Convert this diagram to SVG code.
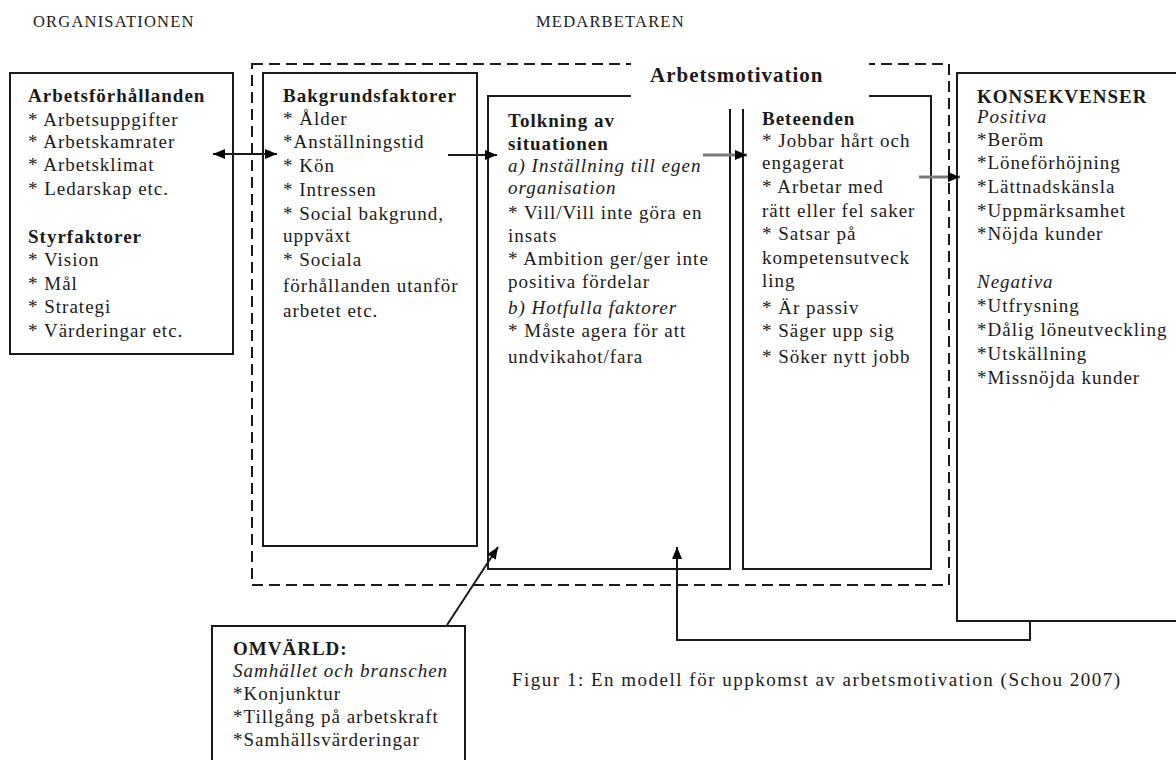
<svg xmlns="http://www.w3.org/2000/svg" width="1176" height="760" viewBox="0 0 1176 760">
<defs>
<style>
.box{fill:none;stroke:#1a1a1a;stroke-width:2}
.dash{fill:none;stroke:#1a1a1a;stroke-width:2;stroke-dasharray:11 6}
.t{font-family:"Liberation Serif","Times New Roman",serif;font-size:19px;letter-spacing:1px;fill:#1a1a1a}
.b{font-weight:bold}
.i{font-style:italic}
.hdr{font-family:"Liberation Serif","Times New Roman",serif;font-size:16.5px;letter-spacing:1.2px;fill:#1a1a1a}
.cap{font-family:"Liberation Serif","Times New Roman",serif;font-size:19px;letter-spacing:1.5px;fill:#1a1a1a}
.big{font-family:"Liberation Serif","Times New Roman",serif;font-size:21px;letter-spacing:1px;font-weight:bold;fill:#1a1a1a}
.c{fill:none;stroke:#1a1a1a;stroke-width:2}
.g{fill:none;stroke:#7a7a7a;stroke-width:3}
</style>
<marker id="ah" viewBox="0 0 12 10" refX="12" refY="5" markerWidth="12" markerHeight="10" markerUnits="userSpaceOnUse" orient="auto-start-reverse">
<path d="M0,0 L12,5 L0,10 z" fill="#000"/>
</marker>
</defs>
<rect width="1176" height="760" fill="#fff"/>

<text class="hdr" x="33" y="27">ORGANISATIONEN</text>
<text class="hdr" x="536" y="27">MEDARBETAREN</text>

<g id="arbetsmotivation-frame">
<rect class="dash" x="252" y="64" width="697" height="521"/>
</g>

<g id="arbetsforhallanden">
<rect class="box" x="10" y="73" width="223" height="281"/>
<text class="t">
<tspan class="b" x="28" y="102">Arbetsförhållanden</tspan>
<tspan x="28" y="126">* Arbetsuppgifter</tspan>
<tspan x="28" y="148">* Arbetskamrater</tspan>
<tspan x="28" y="171">* Arbetsklimat</tspan>
<tspan x="28" y="195">* Ledarskap etc.</tspan>
<tspan class="b" x="28" y="243">Styrfaktorer</tspan>
<tspan x="28" y="266">* Vision</tspan>
<tspan x="28" y="290">* Mål</tspan>
<tspan x="28" y="313">* Strategi</tspan>
<tspan x="28" y="337">* Värderingar etc.</tspan>
</text>
</g>

<g id="bakgrundsfaktorer">
<rect class="box" x="263" y="73" width="214" height="473"/>
<text class="t">
<tspan class="b" x="283" y="102">Bakgrundsfaktorer</tspan>
<tspan x="283" y="125">* Ålder</tspan>
<tspan x="283" y="148">*Anställningstid</tspan>
<tspan x="283" y="172">* Kön</tspan>
<tspan x="283" y="196">* Intressen</tspan>
<tspan x="283" y="220">* Social bakgrund,</tspan>
<tspan x="283" y="242">uppväxt</tspan>
<tspan x="283" y="266">* Sociala</tspan>
<tspan x="283" y="292">förhållanden utanför</tspan>
<tspan x="283" y="317">arbetet etc.</tspan>
</text>
</g>

<g id="tolkning">
<rect class="box" x="488" y="96" width="242" height="473"/>
<text class="t">
<tspan class="b" x="508" y="127">Tolkning av</tspan>
<tspan class="b" x="508" y="150">situationen</tspan>
<tspan class="i" x="508" y="172">a) Inställning till egen</tspan>
<tspan class="i" x="508" y="194">organisation</tspan>
<tspan x="508" y="219">* Vill/Vill inte göra en</tspan>
<tspan x="508" y="242">insats</tspan>
<tspan x="508" y="265">* Ambition ger/ger inte</tspan>
<tspan x="508" y="288">positiva fördelar</tspan>
<tspan class="i" x="508" y="314">b) Hotfulla faktorer</tspan>
<tspan x="508" y="337">* Måste agera för att</tspan>
<tspan x="508" y="363">undvikahot/fara</tspan>
</text>
</g>

<g id="beteenden">
<rect class="box" x="743" y="96" width="188" height="473"/>
<text class="t">
<tspan class="b" x="762" y="125">Beteenden</tspan>
<tspan x="762" y="147">* Jobbar hårt och</tspan>
<tspan x="762" y="169">engagerat</tspan>
<tspan x="762" y="193">* Arbetar med</tspan>
<tspan x="762" y="217">rätt eller fel saker</tspan>
<tspan x="762" y="240">* Satsar på</tspan>
<tspan x="762" y="264">kompetensutveck</tspan>
<tspan x="762" y="287">ling</tspan>
<tspan x="762" y="314">* Är passiv</tspan>
<tspan x="762" y="337">* Säger upp sig</tspan>
<tspan x="762" y="363">* Söker nytt jobb</tspan>
</text>
</g>

<g id="arbetsmotivation-label">
<rect x="631" y="56" width="238" height="53" fill="#fff"/>
<text class="big" x="650" y="82">Arbetsmotivation</text>
</g>

<g id="konsekvenser">
<rect class="box" x="957" y="73" width="240" height="548"/>
<text class="t">
<tspan class="b" x="977" y="103">KONSEKVENSER</tspan>
<tspan class="i" x="977" y="123">Positiva</tspan>
<tspan x="977" y="146">*Beröm</tspan>
<tspan x="977" y="169">*Löneförhöjning</tspan>
<tspan x="977" y="193">*Lättnadskänsla</tspan>
<tspan x="977" y="217">*Uppmärksamhet</tspan>
<tspan x="977" y="240">*Nöjda kunder</tspan>
<tspan class="i" x="977" y="288">Negativa</tspan>
<tspan x="977" y="312">*Utfrysning</tspan>
<tspan x="977" y="336">*Dålig löneutveckling</tspan>
<tspan x="977" y="360">*Utskällning</tspan>
<tspan x="977" y="384">*Missnöjda kunder</tspan>
</text>
</g>

<g id="omvarld">
<rect class="box" x="212" y="626" width="253" height="160"/>
<text class="t">
<tspan class="b" x="233" y="655">OMVÄRLD:</tspan>
<tspan class="i" x="233" y="677">Samhället och branschen</tspan>
<tspan x="233" y="700">*Konjunktur</tspan>
<tspan x="233" y="723">*Tillgång på arbetskraft</tspan>
<tspan x="233" y="746">*Samhällsvärderingar</tspan>
</text>
</g>

<g id="connectors">
<line class="c" x1="213" y1="154" x2="277" y2="154" marker-start="url(#ah)" marker-end="url(#ah)"/>
<line class="c" x1="448" y1="155" x2="497" y2="155" marker-end="url(#ah)"/>
<line class="g" x1="703" y1="155" x2="747" y2="155" marker-end="url(#ah)"/>
<line class="g" x1="919" y1="177" x2="960" y2="177" marker-end="url(#ah)"/>
<line class="c" x1="447" y1="625" x2="498" y2="547" marker-end="url(#ah)"/>
<polyline class="c" points="1030,621 1030,640 677,640 677,547" marker-end="url(#ah)"/>
</g>

<text class="cap" x="512" y="686">Figur 1: En modell för uppkomst av arbetsmotivation (Schou 2007)</text>
</svg>
